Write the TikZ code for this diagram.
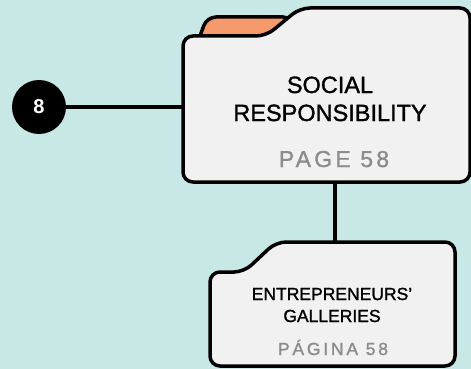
\documentclass[tikz,border=0pt]{standalone}
\usepackage{fontspec}
\setmainfont{Liberation Sans}
\newfontfamily\medfont[FakeBold=1.3]{Liberation Sans}
\usepackage{tikz}
\usetikzlibrary{positioning}
\definecolor{bgteal}{HTML}{C7E8E5}
\definecolor{foldergray}{HTML}{F1F1F1}
\definecolor{taborange}{HTML}{F79A6B}
\definecolor{pagegray}{HTML}{8C8C8C}
\tikzstyle{folder}=[draw=black, line width=3.5pt, fill=foldergray, rounded corners=10pt, line join=round]
\tikzstyle{backtab}=[draw=black, line width=3.5pt, fill=taborange, rounded corners=9pt, line join=round]
\tikzstyle{badge}=[shape=circle, minimum size=54pt, inner sep=0, fill=black, text=white, font=\fontsize{20}{20}\selectfont\bfseries]
\tikzstyle{link}=[line width=3.5pt]
\tikzstyle{bigtitle}=[anchor=base, inner sep=0, font=\medfont\fontsize{23.5}{27}\selectfont]
\tikzstyle{smalltitle}=[anchor=base, inner sep=0, font=\medfont\fontsize{17.5}{21}\selectfont]
\tikzstyle{bigpage}=[anchor=base, inner sep=0, text=pagegray, font=\medfont\fontsize{23}{27}\selectfont\addfontfeature{LetterSpace=14}]
\tikzstyle{smallpage}=[anchor=base, inner sep=0, text=pagegray, font=\medfont\fontsize{17.5}{21}\selectfont\addfontfeature{LetterSpace=16}]

\begin{document}
\begin{tikzpicture}[x=1pt, y=-1pt]
\fill[bgteal] (0,0) rectangle (471,369);
\useasboundingbox (0,0) rectangle (471,369);
% connectors
\node[badge] (eight) at (39,107) {8};
\coordinate (bigwest) at (183,107);
\coordinate (bigsouth) at (335,182);
\coordinate (smallnorth) at (335,242);
\draw[link] (eight) -- (bigwest);
\draw[link] (bigsouth) -- (smallnorth);
% folders
\draw[backtab] (197,44) -- (207,17) -- (292,17) -- (292,44);
\draw[folder] (183,182) -- (183,36) -- (266,36) -- (300,8) -- (470,8) -- (470,182) -- cycle;
\draw[folder] (210,366) -- (210,272) -- (244,272) -- (276,242) -- (455,242) -- (455,366) -- cycle;
% texts
\node[bigtitle] (social) at (330,93) {SOCIAL};
\node[bigtitle] (resp) at (330,121) {RESPONSIBILITY};
\node[bigpage] (page) at (334,167) {PAGE 58};
\node[smalltitle] (entre) at (332,300) {ENTREPRENEURS’};
\node[smalltitle] (gall) at (332,322) {GALLERIES};
\node[smallpage] (pagina) at (333,355) {PÁGINA 58};
\end{tikzpicture}
\end{document}
